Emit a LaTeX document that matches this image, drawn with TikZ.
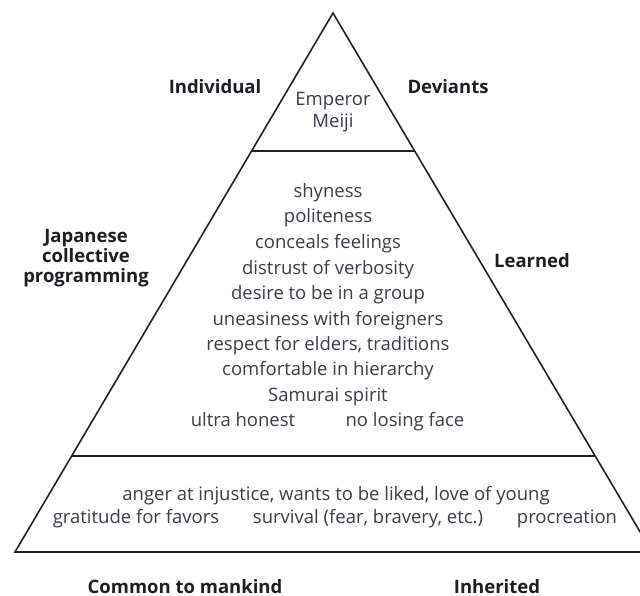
\documentclass[tikz,border=0pt]{standalone}
\usepackage{fontspec}
\setmainfont{Open Sans}
\usetikzlibrary{calc}
\definecolor{txt}{HTML}{3C3C4C}
\definecolor{lab}{HTML}{1E1E24}
\definecolor{ln}{HTML}{222222}
\begin{document}
\begin{tikzpicture}[x=1pt,y=-1pt,
  item/.style={inner sep=0pt,text=txt,font=\fontsize{18.5}{18.5}\selectfont,anchor=base},
  lbl/.style={inner sep=0pt,text=lab,font=\fontsize{18.5}{20}\selectfont\bfseries,align=center,anchor=base},
  edge/.style={draw=ln,line width=1.6pt,line join=miter}]
\useasboundingbox (0,0) rectangle (640,596);
\clip (0,0) rectangle (640,596);
\fill[white] (0,0) rectangle (640,596);
\coordinate (A) at (333,13);
\coordinate (BL) at (15,552);
\coordinate (BR) at (652,552);
\draw[edge] (A) -- (BL) -- (BR) -- cycle;
\coordinate (L1) at ($(A)!0.256!(BL)$);
\coordinate (R1) at ($(A)!0.256!(BR)$);
\coordinate (L2) at ($(A)!0.822!(BL)$);
\coordinate (R2) at ($(A)!0.822!(BR)$);
\draw[edge] (L1) -- (R1);
\draw[edge] (L2) -- (R2);
% top
\node[item] (em) at (333,106) {Emperor};
\node[item] (mj) at (333,128) {Meiji};
\node[lbl] (ind) at (215,94) {Individual};
\node[lbl] (dev) at (448,94) {Deviants};
% middle
\node[item] (m1) at (328,198) {shyness};
\node[item] (m2) at (328,223) {politeness};
\node[item] (m3) at (328,249) {conceals feelings};
\node[item] (m4) at (328,274) {distrust of verbosity};
\node[item] (m5) at (328,299) {desire to be in a group};
\node[item] (m6) at (328,325) {uneasiness with foreigners};
\node[item] (m7) at (328,350) {respect for elders, traditions};
\node[item] (m8) at (328,375) {comfortable in hierarchy};
\node[item] (m9) at (328,401) {Samurai spirit};
\node[item] (m10) at (243,426) {ultra honest};
\node[item] (m11) at (405,426) {no losing face};
\node[lbl, anchor=center] (jap) at (86,258) {Japanese\\collective\\programming};
\node[lbl] (lea) at (532,268) {Learned};
% bottom
\node[item] (b1) at (336,500) {anger at injustice, wants to be liked, love of young};
\node[item] (b2) at (136,523) {gratitude for favors};
\node[item] (b3) at (368,523) {survival (fear, bravery, etc.)};
\node[item] (b4) at (567,523) {procreation};
\node[lbl] (com) at (185,593) {Common to mankind};
\node[lbl] (inh) at (497,593) {Inherited};
\end{tikzpicture}
\end{document}
